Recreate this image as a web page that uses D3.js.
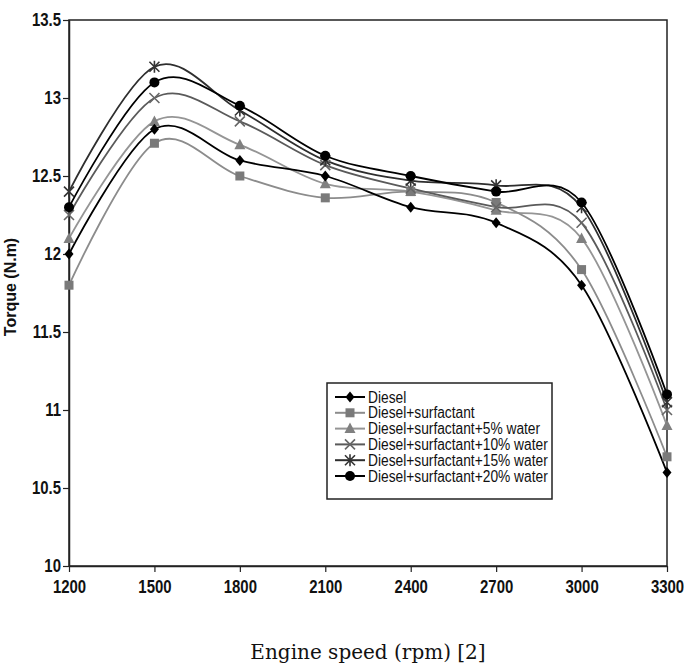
<!DOCTYPE html>
<html>
<head>
<meta charset="utf-8">
<script src="https://cdn.jsdelivr.net/npm/d3@7"></script>
<style>
  body { margin: 0; background: #fff; }
  svg { display: block; }
</style>
</head>
<body>
<svg id="chart" width="684" height="668"></svg>
<script>
// dữ liệu
const rpm = [1200, 1500, 1800, 2100, 2400, 2700, 3000, 3300];
const yTicks = [10, 10.5, 11, 11.5, 12, 12.5, 13, 13.5];

const diesel     = [12.0, 12.8, 12.6, 12.5, 12.3, 12.2, 11.8, 10.6];
const surfactant = [11.8, 12.71, 12.5, 12.36, 12.4, 12.33, 11.9, 10.7];
const water5     = [12.1, 12.85, 12.7, 12.45, 12.4, 12.28, 12.1, 10.9];
const water10    = [12.25, 13.0, 12.85, 12.57, 12.42, 12.3, 12.2, 11.0];
const water15    = [12.4, 13.2, 12.92, 12.6, 12.47, 12.44, 12.3, 11.05];
const water20    = [12.3, 13.1, 12.95, 12.63, 12.5, 12.4, 12.33, 11.1];

const seriesNames = ["Diesel", "Diesel+surfactant", "Diesel+surfactant+5% water",
  "Diesel+surfactant+10% water", "Diesel+surfactant+15% water", "Diesel+surfactant+20% water"];
const seriesValues = [diesel, surfactant, water5, water10, water15, water20];
const lineColors = ["#000000", "#8c8c8c", "#959595", "#5a5a5a", "#2e2e2e", "#000000"];
const markColors = ["#000000", "#7a7a7a", "#808080", "#666666", "#333333", "#000000"];
const markTypes = ["diamond", "square", "triangle", "x", "star", "circle"];

const sans = "'Liberation Sans', Arial, sans-serif";

// ép chữ hẹp lại (giống Arial Narrow)
function condense(sel, k) {
  sel.each(function() {
    const len = this.getComputedTextLength();
    d3.select(this).attr("textLength", len * k).attr("lengthAdjust", "spacingAndGlyphs");
  });
}

const svg = d3.select("#chart"),
      margin = {top: 20, right: 17, bottom: 102, left: 69},
      width = 684 - margin.left - margin.right,
      height = 668 - margin.top - margin.bottom;

const g = svg.append("g").attr("transform", `translate(${margin.left},${margin.top})`);

const x = d3.scaleLinear().domain([1200, 3300]).range([0, width]);
const y = d3.scaleLinear().domain([10, 13.5]).range([height, 0]);

// khung
g.append("rect")
  .attr("width", width).attr("height", height)
  .attr("fill", "none").attr("stroke", "#222").attr("stroke-width", 1.5);

// trục
const xAxis = g.append("g")
  .attr("transform", `translate(0,${height})`)
  .call(d3.axisBottom(x).tickValues(rpm).tickSize(6).tickSizeOuter(0).tickPadding(6).tickFormat(d => d));
const yAxis = g.append("g")
  .call(d3.axisLeft(y).tickValues(yTicks).tickSize(6).tickSizeOuter(0).tickPadding(2).tickFormat(d => String(d)));

[xAxis, yAxis].forEach(a => {
  a.select(".domain").attr("stroke", "#222").attr("stroke-width", 1.5);
  a.selectAll(".tick line").attr("stroke", "#222").attr("stroke-width", 1.2);
  a.selectAll(".tick text")
    .attr("fill", "#111")
    .style("font-family", sans)
    .style("font-weight", "bold")
    .style("font-size", "18px")
    .call(condense, 0.83);
});
xAxis.selectAll(".tick text").attr("dy", "0.85em");

// marker
function marker(sel, type, cx, cy, col) {
  if (type === "diamond") {
    sel.append("path").attr("d", `M${cx},${cy-5.5}L${cx+4.5},${cy}L${cx},${cy+5.5}L${cx-4.5},${cy}Z`).attr("fill", col);
  } else if (type === "square") {
    sel.append("rect").attr("x", cx - 4.5).attr("y", cy - 4.5).attr("width", 9).attr("height", 9).attr("fill", col);
  } else if (type === "triangle") {
    sel.append("path").attr("d", `M${cx},${cy-6}L${cx+5.5},${cy+4.5}L${cx-5.5},${cy+4.5}Z`).attr("fill", col);
  } else if (type === "x") {
    sel.append("path").attr("d", `M${cx-5},${cy-5}L${cx+5},${cy+5}M${cx-5},${cy+5}L${cx+5},${cy-5}`)
      .attr("stroke", col).attr("stroke-width", 1.6).attr("fill", "none");
  } else if (type === "star") {
    sel.append("path").attr("d", `M${cx-5},${cy-5}L${cx+5},${cy+5}M${cx-5},${cy+5}L${cx+5},${cy-5}M${cx},${cy-6}L${cx},${cy+6}`)
      .attr("stroke", col).attr("stroke-width", 1.6).attr("fill", "none");
  } else {
    sel.append("circle").attr("cx", cx).attr("cy", cy).attr("r", 5).attr("fill", col);
  }
}

const line = d3.line()
  .x((d, i) => x(rpm[i]))
  .y(d => y(d))
  .curve(d3.curveCardinal.tension(0));

// vẽ đường (xám trước, đen sau)
const order = [2, 1, 3, 0, 4, 5];
order.forEach(k => {
  g.append("path")
    .datum(seriesValues[k])
    .attr("fill", "none")
    .attr("stroke", lineColors[k])
    .attr("stroke-width", 1.8)
    .attr("d", line);
});
order.forEach(k => {
  const mg = g.append("g");
  seriesValues[k].forEach((v, i) => marker(mg, markTypes[k], x(rpm[i]), y(v), markColors[k]));
});

// chú thích
const legend = svg.append("g").attr("transform", "translate(327,383)");
legend.append("rect")
  .attr("width", 225).attr("height", 116)
  .attr("fill", "#fff").attr("stroke", "#222").attr("stroke-width", 1.5);
seriesNames.forEach((name, i) => {
  const ly = 14 + i * 15.8;
  legend.append("line")
    .attr("x1", 8).attr("x2", 38).attr("y1", ly).attr("y2", ly)
    .attr("stroke", lineColors[i]).attr("stroke-width", 2);
  marker(legend, markTypes[i], 23, ly, markColors[i]);
  legend.append("text")
    .attr("x", 41).attr("y", ly + 5.5)
    .style("font-family", sans)
    .style("font-size", "16px")
    .attr("fill", "#111")
    .text(name)
    .call(condense, 0.86);
});

// tiêu đề trục
svg.append("text")
  .attr("transform", `translate(16,${margin.top + height / 2 - 6}) rotate(-90)`)
  .attr("text-anchor", "middle")
  .style("font-family", sans)
  .style("font-weight", "bold")
  .style("font-size", "16px")
  .attr("fill", "#111")
  .text("Torque (N.m)");

svg.append("text")
  .attr("x", margin.left + width / 2)
  .attr("y", 659)
  .attr("text-anchor", "middle")
  .style("font-family", "'DejaVu Serif', serif")
  .style("font-size", "20px")
  .attr("fill", "#111")
  .text("Engine speed (rpm) [2]");
</script>
</body>
</html>
